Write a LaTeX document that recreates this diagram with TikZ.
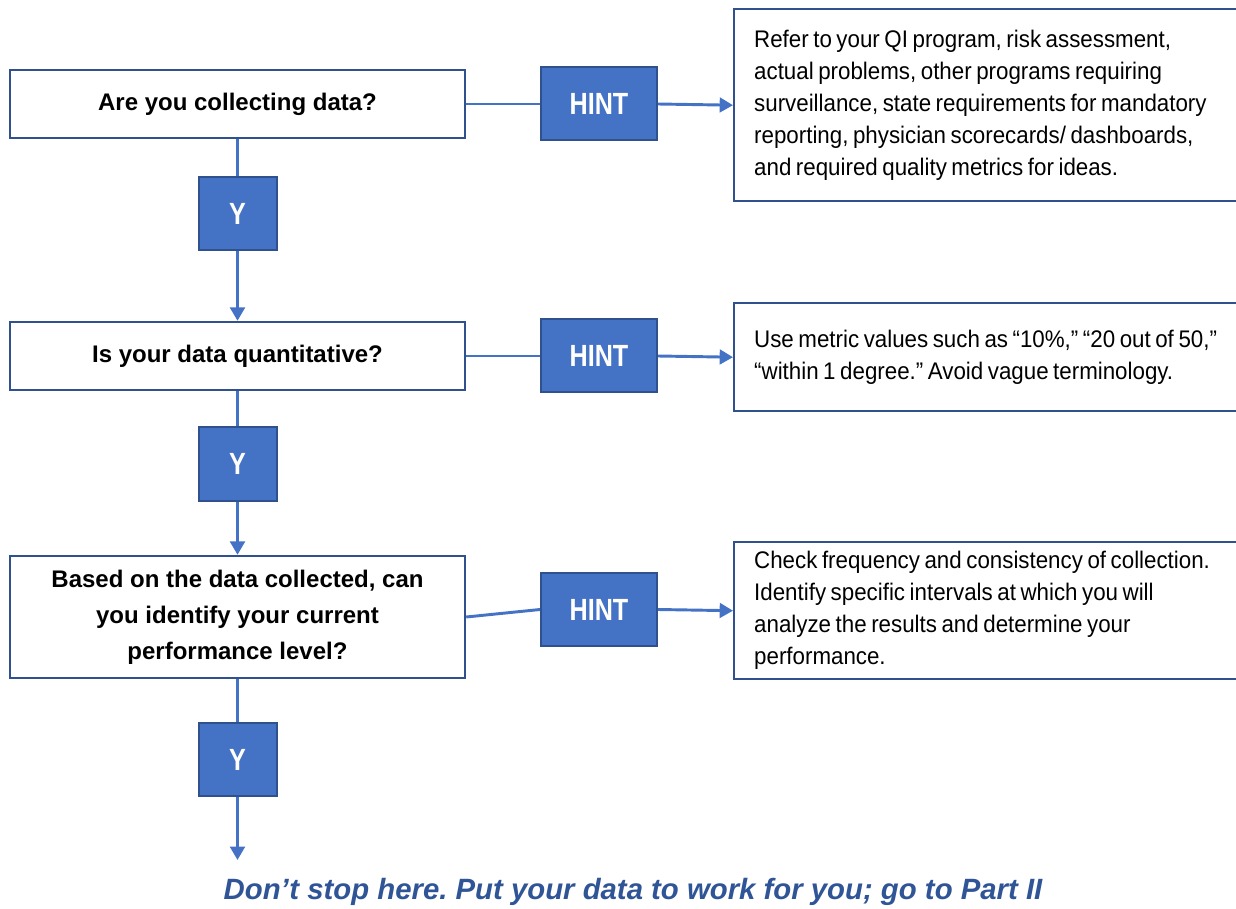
\documentclass[tikz,border=0pt]{standalone}
\usepackage{fontspec}
\setmainfont{Liberation Sans}
\newfontfamily\hintfont[FakeStretch=0.82]{Liberation Sans}
\newfontfamily\notefont[FakeStretch=0.93]{Liberation Sans}
\usetikzlibrary{arrows.meta}
\definecolor{obfill}{HTML}{4472C4}
\definecolor{obdraw}{HTML}{2F528F}
\definecolor{footblue}{HTML}{2F5597}
\newcommand{\tsp}{\spaceskip=0.19em plus 0.05em\relax\xspaceskip=0.22em\relax}
\frenchspacing
\tikzset{
  qbox/.style={draw=obdraw, line width=1.8pt, fill=white, minimum width=341.25pt, align=center,
    font=\fontsize{18}{27}\selectfont\bfseries, inner sep=0pt},
  hintbox/.style={draw=obdraw, line width=1.5pt, fill=obfill, minimum width=87pt, minimum height=54.75pt,
    text=white, font=\hintfont\fontsize{23}{27}\selectfont\bfseries, inner sep=0pt},
  ybox/.style={draw=obdraw, line width=1.5pt, fill=obfill, minimum width=58.5pt, minimum height=54.75pt,
    text=white, font=\hintfont\fontsize{23}{27}\selectfont\bfseries, inner sep=0pt},
  notebox/.style={draw=obdraw, line width=1.8pt, fill=white, anchor=north west, text width=400pt,
    align=left, inner xsep=15pt, inner ysep=0pt, font=\notefont\fontsize{18}{24}\selectfont},
  link/.style={draw=obfill, line width=2.2pt},
  arrowlink/.style={link, -{Triangle[width=11pt,length=10pt]}},
}
\begin{document}
\begin{tikzpicture}[x=0.75pt,y=-0.75pt]
\useasboundingbox (0,0) rectangle (1236,909);
\clip (0,0) rectangle (1236,909);

% question boxes
\node[qbox, minimum height=51pt] (q1) at (237.5,104) {Are you collecting data?};
\node[qbox, minimum height=51pt] (q2) at (237.5,356) {Is your data quantitative?};
\node[qbox, minimum height=91.5pt] (q3) at (237.5,617) {Based on the data collected, can\\you identify your current\\performance level?};

% hint boxes
\node[hintbox] (h1) at (599,104) {HINT};
\node[hintbox] (h2) at (599,356) {HINT};
\node[hintbox] (h3) at (599,609.5) {HINT};

% Y boxes
\node[ybox] (y1) at (237.5,213.5) {Y};
\node[ybox] (y2) at (237.5,464) {Y};
\node[ybox] (y3) at (237.5,759.5) {Y};

% note boxes
\node[notebox, minimum height=144pt] (n1) at (733,8) {\tsp Refer to your QI program, risk assessment,\\actual problems, other programs requiring\\surveillance, state requirements for mandatory\\reporting, physician scorecards/ dashboards,\\and required quality metrics for ideas.};
\node[notebox, minimum height=81pt] (n2) at (733,302) {\tsp Use metric values such as “10\%,” “20 out of 50,”\\“within 1 degree.” Avoid vague terminology.};
\node[notebox, minimum height=102.75pt] (n3) at (733,541) {\tsp Check frequency and consistency of collection.\\Identify specific intervals at which you will\\analyze the results and determine your\\performance.};

\coordinate (end) at (237.5,860);

% connectors
\draw[link] (q1.south) -- (y1.north);
\draw[arrowlink] (y1.south) -- (q2.north);
\draw[link] (q2.south) -- (y2.north);
\draw[arrowlink] (y2.south) -- (q3.north);
\draw[link] (q3.south) -- (y3.north);
\draw[arrowlink] (y3.south) -- (end);

\draw[link] (q1.east) -- (h1.west);
\draw[arrowlink] (h1.east) -- (n1.west);
\draw[link] (q2.east) -- (h2.west);
\draw[arrowlink] (h2.east) -- (n2.west);
\draw[link] (q3.east) -- (h3.west);
\draw[arrowlink] (h3.east) -- (n3.west);

% footer
\node[text=footblue, font=\fontsize{22}{26}\selectfont\bfseries\itshape] (foot) at (633,892) {Don’t stop here. Put your data to work for you; go to Part II};
\end{tikzpicture}
\end{document}
